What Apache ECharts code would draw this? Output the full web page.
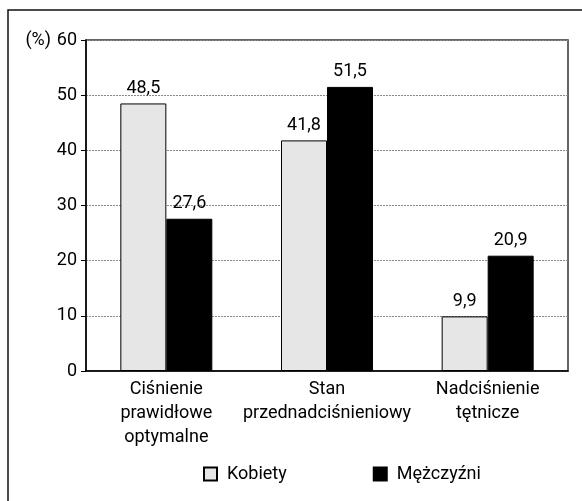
<!DOCTYPE html>
<html>
<head>
<meta charset="utf-8">
<script src="https://cdn.jsdelivr.net/npm/echarts@6/dist/echarts.min.js"></script>
<style>
  html, body { margin: 0; padding: 0; background: #fff; }
  #chart { width: 582px; height: 501px; }
</style>
</head>
<body>
<div id="chart"></div>
<script>
const categories = ['Ciśnienie\nprawidłowe\noptymalne', 'Stan\nprzednadciśnieniowy', 'Nadciśnienie\ntętnicze']
const kobiety = [48.5, 41.8, 9.9]
const mezczyzni = [27.6, 51.5, 20.9]
const yTicks = [0, 10, 20, 30, 40, 50, 60]

const FONT = 'Roboto, sans-serif'
const commaLabel = p => String(p.value).replace('.', ',')

const chart = echarts.init(document.getElementById('chart'))
chart.setOption({
  animation: false,
  textStyle: { fontFamily: FONT },
  graphic: [{
    type: 'rect',
    shape: { x: 8, y: 10, width: 700, height: 700 },
    style: { fill: 'none', stroke: '#111', lineWidth: 1.5 }
  }],
  grid: {
    left: 86, right: 14, top: 40, bottom: 130,
    show: true, borderColor: '#333', borderWidth: 1.5
  },
  legend: {
    left: 198, top: 460,
    itemWidth: 13, itemHeight: 13, itemGap: 86,
    icon: 'rect',
    textStyle: { fontFamily: FONT, fontSize: 18, color: '#000', padding: [0, 0, 0, 5] },
    data: ['Kobiety', 'Mężczyźni']
  },
  xAxis: {
    type: 'category',
    data: categories,
    axisLine: { lineStyle: { color: '#000', width: 1.5 } },
    axisTick: { show: false },
    axisLabel: { interval: 0, fontFamily: FONT, fontSize: 18, color: '#000', lineHeight: 24, margin: 6 }
  },
  yAxis: {
    type: 'value',
    min: yTicks[0], max: yTicks[yTicks.length - 1], interval: 10,
    name: '(%)',
    nameLocation: 'end',
    nameGap: 0,
    nameMoveOverlap: false,
    nameTextStyle: { fontFamily: FONT, fontSize: 18, color: '#000', align: 'right', verticalAlign: 'middle', padding: [0, 35, 0, 0] },
    axisLine: { show: true, lineStyle: { color: '#000', width: 1.5 } },
    axisTick: { show: true, length: 5, lineStyle: { color: '#000' } },
    axisLabel: { fontFamily: FONT, fontSize: 18, color: '#000', margin: 9 },
    splitLine: { lineStyle: { color: '#888', type: [2, 1], width: 1 } }
  },
  series: [
    {
      name: 'Kobiety',
      type: 'bar',
      data: kobiety,
      barWidth: 46,
      barGap: '0%',
      itemStyle: { color: '#e6e6e6', borderColor: '#000', borderWidth: 1 },
      label: { show: true, position: 'top', distance: 6, formatter: commaLabel, fontFamily: FONT, fontSize: 18, color: '#000' }
    },
    {
      name: 'Mężczyźni',
      type: 'bar',
      data: mezczyzni,
      barWidth: 46,
      barGap: '0%',
      itemStyle: { color: '#000', borderColor: '#000', borderWidth: 1 },
      label: { show: true, position: 'top', distance: 6, formatter: commaLabel, fontFamily: FONT, fontSize: 18, color: '#000' }
    }
  ]
})
</script>
</body>
</html>
